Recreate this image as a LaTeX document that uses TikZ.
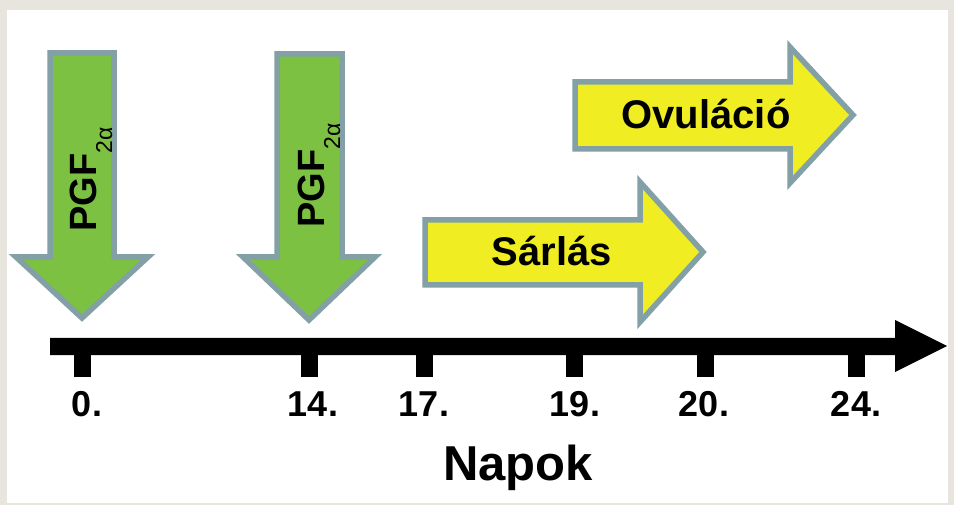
\documentclass[tikz,border=0pt]{standalone}
\usepackage{fontspec}
\setmainfont{Liberation Sans}
\definecolor{framebg}{RGB}{232,228,222}
\definecolor{edgegray}{RGB}{130,160,166}
\definecolor{pgfgreen}{RGB}{124,193,66}
\definecolor{eventyellow}{RGB}{240,238,34}
\tikzset{
  blockarrow/.style={draw=edgegray, line width=5.5pt, line join=miter},
  greenarrow/.style={blockarrow, fill=pgfgreen},
  yellowarrow/.style={blockarrow, fill=eventyellow},
  daytick/.style={fill=black},
  daylabel/.style={anchor=base, inner sep=0pt, font=\fontsize{36}{40}\selectfont\bfseries},
  eventlabel/.style={anchor=base, inner sep=0pt, font=\fontsize{40}{44}\selectfont\bfseries},
  pgflabel/.style={anchor=base west, inner sep=0pt, rotate=90, font=\fontsize{38}{40}\selectfont\bfseries}
}
\newcommand{\pgftwoalpha}{PGF\raisebox{-16pt}{\fontsize{23}{25}\selectfont\mdseries 2α}}
\begin{document}
\begin{tikzpicture}[x=1pt,y=-1pt]
\useasboundingbox (0,0) rectangle (954,505);
% frame and white panel
\fill[framebg] (0,0) rectangle (954,505);
\fill[white] (7,10) rectangle (948,503);

% PGF2alpha injections (downward arrows)
\draw[greenarrow] (50,53) -- (114,53) -- (114,257) -- (148,257) -- (82,318)
  -- (16,257) -- (50,257) -- cycle;
\draw[greenarrow] (277,54) -- (342,54) -- (342,257) -- (375,257) -- (309,320)
  -- (243,257) -- (277,257) -- cycle;
\node[pgflabel] (pgfA) at (96,232) {\pgftwoalpha};
\node[pgflabel] (pgfB) at (324,228) {\pgftwoalpha};

% event arrows
\draw[yellowarrow] (425,220) -- (640,220) -- (640,182) -- (703,252) -- (640,322)
  -- (640,285) -- (425,285) -- cycle;
\draw[yellowarrow] (575,82) -- (790,82) -- (790,47) -- (853,115) -- (790,183)
  -- (790,149) -- (575,149) -- cycle;
\node[eventlabel] (sarlas) at (552,266) {Sárlás};
\node[eventlabel] (ovulacio) at (706,129) {Ovuláció};

% time axis
\fill[black] (50,338) -- (895,338) -- (895,320) -- (947,346) -- (895,372)
  -- (895,355) -- (50,355) -- cycle;
\foreach \c in {82,309,424,574,705,856}
  \fill[daytick] (\c-8.5,354) rectangle (\c+8.5,377);

% day labels
\node[daylabel] (d0)  at (87,416)  {0.};
\node[daylabel] (d14) at (313,416) {14.};
\node[daylabel] (d17) at (424,416) {17.};
\node[daylabel] (d19) at (575,416) {19.};
\node[daylabel] (d20) at (704,416) {20.};
\node[daylabel] (d24) at (856,416) {24.};
\node[anchor=base, inner sep=0pt, font=\fontsize{49}{52}\selectfont\bfseries] (napok) at (518,480) {Napok};
\end{tikzpicture}
\end{document}
